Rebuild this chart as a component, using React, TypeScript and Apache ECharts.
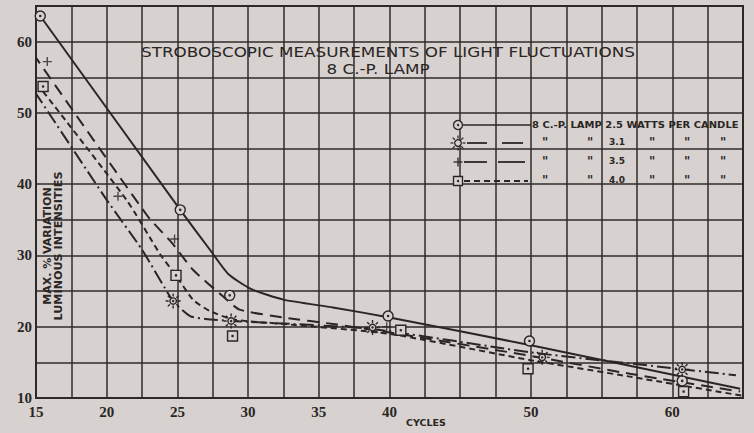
import React, { useEffect, useRef } from 'react';
import * as echarts from 'echarts';

// ---- axis labels ----
const xTickLabels = [15, 20, 25, 30, 35, 40, 50, 60];
const yTickLabels = [10, 20, 30, 40, 50, 60];

// ---- observed points (cycles, max % variation) ----
const points25 = [[15.3, 63.6], [25.2, 36.4], [28.7, 24.4], [39.9, 21.5], [49.9, 18.0], [60.7, 12.4]];
const points31 = [[14.8, 53.9], [24.7, 23.6], [28.8, 20.8], [38.8, 19.9], [50.8, 15.7], [60.7, 14.0]];
const points35 = [[15.8, 57.2], [20.8, 38.3], [24.8, 32.3], [39.8, 20.0]];
const points40 = [[15.5, 53.7], [24.9, 27.2], [28.9, 18.7], [40.8, 19.5], [49.8, 14.1], [60.8, 10.9]];

// ---- faired curves ----
const curve25 = [[15.3, 63.6], [25.2, 36.4], [27.3, 30.8], [28.6, 27.4], [30.2, 25.3], [32.5, 23.8], [36, 22.7], [40, 21.3], [50, 17.4], [64.8, 11.3]];
const curve31 = [[14.9, 53.0], [20.0, 37.8], [22.5, 30.8], [24.7, 23.6], [25.9, 21.5], [27, 21.1], [28.8, 20.8], [30, 20.7], [38.6, 19.7], [50, 16.4], [57.2, 14.8], [64.5, 13.2]];
const curve35 = [[14.8, 58.3], [22.9, 35.5], [24.6, 31.8], [26.1, 28.0], [28.2, 24.3], [29.4, 22.4], [32.5, 21.3], [36.3, 20.3], [40, 19.2], [50, 15.9], [57, 13.4], [64.8, 10.9]];
const curve40 = [[15.5, 53.0], [21.4, 37.8], [23.8, 30.1], [24.9, 27.2], [26.1, 23.8], [27.3, 22.2], [29, 21.0], [33, 20.3], [40, 19.0], [50, 15.3], [57, 13.0], [65, 10.3]];

// ---- legend ----
const legendWatts = ['2.5', '3.1', '3.5', '4.0'];
const titleLine1 = 'STROBOSCOPIC MEASUREMENTS OF LIGHT FLUCTUATIONS';
const titleLine2 = '8 C.-P. LAMP';

const INK = '#2a2624';
const GRIDC = '#2f2b29';
const BG = '#d7d1cf';
const SANS = '"DejaVu Sans", "Liberation Sans", Arial, sans-serif';

const circlePath = 'path://M10,0A10,10,0,1,1,10,20A10,10,0,1,1,10,0ZM10,8.8A1.2,1.2,0,1,1,10,11.2A1.2,1.2,0,1,1,10,8.8Z';
const squarePath = 'path://M0,0L20,0L20,20L0,20ZM10,8.8A1.2,1.2,0,1,1,10,11.2A1.2,1.2,0,1,1,10,8.8Z';
const plusPath = 'path://M10,0L10,20M0,10L20,10';
const sunRays = Array.from({ length: 8 }, (_, i) => {
  const a = (i * Math.PI) / 4;
  const f = (n: number) => n.toFixed(2);
  return `M${f(15 + 8.5 * Math.cos(a))},${f(15 + 8.5 * Math.sin(a))}L${f(15 + 14 * Math.cos(a))},${f(15 + 14 * Math.sin(a))}`;
}).join('');
const sunPath = 'path://M15,9A6,6,0,1,1,15,21A6,6,0,1,1,15,9ZM15,14A1,1,0,1,1,15,16A1,1,0,1,1,15,14Z' + sunRays;

function text(x: number, y: number, t: string, font: string, align = 'center', extra: any = {}) {
  return {
    type: 'text',
    x,
    y,
    z: 20,
    ...extra,
    style: {
      text: t,
      font,
      fill: INK,
      textAlign: align,
      textVerticalAlign: 'middle',
      align,
      verticalAlign: 'middle',
    },
  };
}

function buildLegend() {
  const els: any[] = [];
  const mx = 458;
  const rows = [125, 143, 162, 181];
  // markers
  els.push({ type: 'circle', shape: { cx: mx, cy: rows[0], r: 4.5 }, style: { fill: BG, stroke: INK, lineWidth: 1.3 }, z: 21 });
  els.push({ type: 'circle', shape: { cx: mx, cy: rows[0], r: 0.8 }, style: { fill: INK, stroke: INK, lineWidth: 1 }, z: 22 });
  els.push({ type: 'circle', shape: { cx: mx, cy: rows[1], r: 3.3 }, style: { fill: BG, stroke: INK, lineWidth: 1.3 }, z: 21 });
  for (let i = 0; i < 8; i++) {
    const a = (i * Math.PI) / 4;
    els.push({ type: 'line', shape: { x1: mx + 4.6 * Math.cos(a), y1: rows[1] + 4.6 * Math.sin(a), x2: mx + 7.5 * Math.cos(a), y2: rows[1] + 7.5 * Math.sin(a) }, style: { stroke: INK, lineWidth: 1.2 }, z: 21 });
  }
  els.push({ type: 'line', shape: { x1: mx - 4.5, y1: rows[2], x2: mx + 4.5, y2: rows[2] }, style: { stroke: INK, lineWidth: 1.3 }, z: 21 });
  els.push({ type: 'line', shape: { x1: mx, y1: rows[2] - 4.5, x2: mx, y2: rows[2] + 4.5 }, style: { stroke: INK, lineWidth: 1.3 }, z: 21 });
  els.push({ type: 'rect', shape: { x: mx - 4.5, y: rows[3] - 4.5, width: 9, height: 9 }, style: { fill: BG, stroke: INK, lineWidth: 1.3 }, z: 21 });
  els.push({ type: 'circle', shape: { cx: mx, cy: rows[3], r: 0.8 }, style: { fill: INK, stroke: INK, lineWidth: 1 }, z: 22 });
  // line samples
  els.push({ type: 'line', shape: { x1: 463, y1: rows[0], x2: 531, y2: rows[0] }, style: { stroke: INK, lineWidth: 1.6 }, z: 21 });
  els.push({ type: 'line', shape: { x1: 467, y1: rows[1], x2: 487, y2: rows[1] }, style: { stroke: INK, lineWidth: 1.8 }, z: 21 });
  els.push({ type: 'line', shape: { x1: 502, y1: rows[1], x2: 523, y2: rows[1] }, style: { stroke: INK, lineWidth: 1.8 }, z: 21 });
  els.push({ type: 'line', shape: { x1: 464, y1: rows[2], x2: 487, y2: rows[2] }, style: { stroke: INK, lineWidth: 1.8 }, z: 21 });
  els.push({ type: 'line', shape: { x1: 498, y1: rows[2], x2: 525, y2: rows[2] }, style: { stroke: INK, lineWidth: 1.8 }, z: 21 });
  els.push({ type: 'line', shape: { x1: 464, y1: rows[3], x2: 528, y2: rows[3] }, style: { stroke: INK, lineWidth: 1.8, lineDash: [6, 4] }, z: 21 });
  // texts
  const f = `bold 9px ${SANS}`;
  els.push(text(532, rows[0], `8 C.-P. LAMP ${legendWatts[0]} WATTS PER CANDLE`, f, 'left', { scaleX: 1.11 }));
  const cols = [545, 590, 617, 652, 687, 723];
  for (let r = 1; r < 4; r++) {
    cols.forEach((cx, ci) => {
      els.push(text(cx, rows[r] - 1, ci === 2 ? legendWatts[r] : '"', ci === 2 ? f : `bold 12px ${SANS}`, 'center'));
    });
  }
  return els;
}

export default function App() {
  const ref = useRef<HTMLDivElement>(null);
  useEffect(() => {
    document.body.style.margin = '0';
    document.body.style.background = BG;
    const chart = echarts.init(ref.current!, null, { renderer: 'svg' });
    const lineBase = { type: 'line', showSymbol: false, symbol: 'none', smooth: 0.2, z: 3, silent: true };
    const scatterBase = { type: 'scatter', z: 5, silent: true, itemStyle: { color: BG, borderColor: INK, borderWidth: 1.4, opacity: 1 } };
    const labelStyle = { color: INK, fontFamily: '"Liberation Serif", serif', fontWeight: 'bold', fontSize: 15 };
    chart.setOption({
      animation: false,
      backgroundColor: BG,
      grid: { left: 36, right: 11, top: 6, bottom: 35, show: true, borderColor: INK, borderWidth: 2, backgroundColor: 'transparent' },
      xAxis: {
        type: 'value', min: 15, max: 65, interval: 2.5,
        axisLine: { show: false }, axisTick: { show: false },
        splitLine: { show: true, lineStyle: { color: GRIDC, width: 1.5 } },
        axisLabel: {
          margin: 6, ...labelStyle,
          formatter: (v: number) => (xTickLabels.includes(v) ? String(v) : ''),
        },
      },
      yAxis: {
        type: 'value', min: 10, max: 65, interval: 5,
        axisLine: { show: false }, axisTick: { show: false },
        splitLine: { show: true, lineStyle: { color: GRIDC, width: 1.5 } },
        axisLabel: {
          margin: 4, ...labelStyle,
          formatter: (v: number) => (yTickLabels.includes(v) ? String(v) : ''),
        },
      },
      series: [
        { ...lineBase, name: '2.5 W line', data: curve25, lineStyle: { color: INK, width: 2, type: 'solid' } },
        { ...lineBase, name: '3.1 W line', data: curve31, lineStyle: { color: INK, width: 2, type: [14, 4, 2, 4] } },
        { ...lineBase, name: '3.5 W line', data: curve35, lineStyle: { color: INK, width: 2, type: [12, 7] } },
        { ...lineBase, name: '4.0 W line', data: curve40, lineStyle: { color: INK, width: 2, type: [6, 4] } },
        { ...scatterBase, name: '2.5 W', data: points25, symbol: circlePath, symbolSize: 10 },
        { ...scatterBase, name: '3.1 W', data: points31, symbol: sunPath, symbolSize: 15 },
        { ...scatterBase, name: '3.5 W', data: points35, symbol: plusPath, symbolSize: 9, itemStyle: { color: INK, borderColor: INK, borderWidth: 1.4 } },
        { ...scatterBase, name: '4.0 W', data: points40, symbol: squarePath, symbolSize: 10 },
      ],
      graphic: [
        text(388, 52, titleLine1, `14px ${SANS}`, 'center', { scaleX: 1.2 }),
        text(378, 69, titleLine2, `14px ${SANS}`, 'center', { scaleX: 1.2 }),
        text(47, 246, 'MAX. % VARIATION', `bold 10px ${SANS}`, 'center', { rotation: Math.PI / 2, scaleX: 1.1 }),
        text(59, 246, 'LUMINOUS INTENSITIES', `bold 10px ${SANS}`, 'center', { rotation: Math.PI / 2, scaleX: 1.12 }),
        text(426, 422, 'CYCLES', `bold 9.5px ${SANS}`),
        ...buildLegend(),
      ],
    });
    return () => chart.dispose();
  }, []);
  return <div ref={ref} style={{ position: 'absolute', left: 0, top: 0, width: 754, height: 433 }} />;
}
